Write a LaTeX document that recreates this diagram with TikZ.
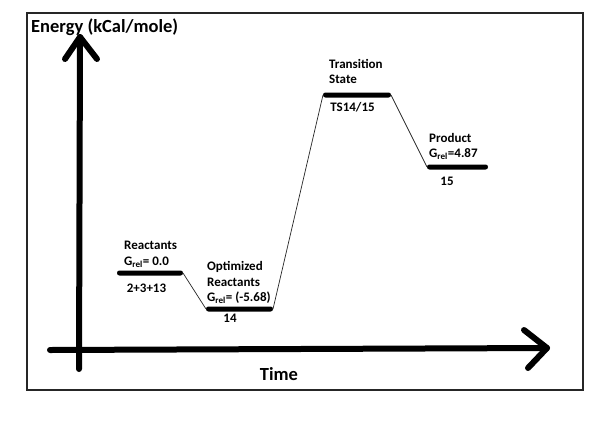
\documentclass[tikz,border=0pt]{standalone}
\usepackage{fontspec}
\setmainfont{Carlito}
\begin{document}
\begin{tikzpicture}[x=1pt,y=-1pt,
  axisline/.style={line width=6pt,line cap=round,line join=round},
  level/.style={fill=black,rounded corners=2.4pt,minimum height=5pt,inner sep=0pt,outer sep=0pt},
  link/.style={line width=0.7pt,black!85},
  lab/.style={font=\fontsize{13}{15.2}\selectfont\bfseries,align=left,inner sep=0pt,anchor=west},
  num/.style={font=\fontsize{13}{15.2}\selectfont\bfseries,inner sep=0pt,anchor=base},
  big/.style={font=\fontsize{18.5}{22}\selectfont\bfseries,inner sep=0pt}]
\useasboundingbox (0,0) rectangle (609,426);
\fill[white] (0,0) rectangle (609,426);
% frame
\draw[black!85,line width=1.2pt] (27,13) rectangle (583,390);
% axes
\coordinate (yb) at (79,369);
\coordinate (yt) at (80,37);
\coordinate (ywl) at (65,59);
\coordinate (ywr) at (97,59);
\coordinate (xl) at (50,350);
\coordinate (xr) at (547,348);
\coordinate (xwt) at (524,330);
\coordinate (xwb) at (528,368);
\draw[axisline] (yb) -- (yt);
\draw[axisline] (ywl) -- (yt) -- (ywr);
\draw[axisline] (xl) -- (xr);
\draw[axisline] (xwt) -- (xr) -- (xwb);
\node[big,anchor=base west] (ylab) at (31,32) {Energy (kCal/mole)};
\node[big,anchor=base] (xlab) at (279,380) {Time};
% levels
\node[level,minimum width=66pt] (react) at (150,273) {};
\node[level,minimum width=67pt] (opt) at (239.5,309) {};
\node[level,minimum width=68pt] (ts) at (357,95) {};
\node[level,minimum width=61pt] (prod) at (457.5,167) {};
% connectors
\draw[link] (react.east) -- (opt.west);
\draw[link] (opt.east) -- (ts.west);
\draw[link] (ts.east) -- (prod.west);
% labels
\node[lab] (reactlab) at (124,254.5) {Reactants\\G\textsubscript{rel}= 0.0};
\node[lab] (optlab) at (207,282.7) {Optimized\\Reactants\\G\textsubscript{rel}= (-5.68)};
\node[lab] (tslab) at (329,71.7) {Transition\\State};
\node[lab] (prodlab) at (429,146.5) {Product\\G\textsubscript{rel}=4.87};
\node[num] (reactnum) at (146.5,292.7) {2+3+13};
\node[num] (optnum) at (230,322.7) {14};
\node[num] (tsnum) at (352.5,111.7) {TS14/15};
\node[num] (prodnum) at (447,185) {15};
\end{tikzpicture}
\end{document}
